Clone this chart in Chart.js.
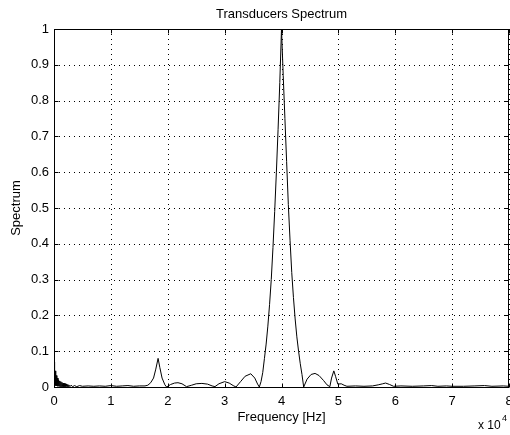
<!DOCTYPE html>
<html>
<head>
<meta charset="utf-8">
<script src="https://cdn.jsdelivr.net/npm/chart.js@4.4.0/dist/chart.umd.min.js"></script>
<style>
    html, body { margin: 0; padding: 0; background: #fff; }
    #wrap { width: 510px; height: 435px; }
</style>
</head>
<body>
<div id="wrap"><canvas id="spectrumChart" width="510" height="435"></canvas></div>
<script>
// Frequency in units of 1e4 Hz (axis shows "x 10^4")
const freq = [
    0, 0.01, 0.02, 0.03, 0.04, 0.05, 0.06, 0.07, 0.08, 0.09,
    0.10, 0.11, 0.12, 0.13, 0.14, 0.15, 0.16, 0.17, 0.18, 0.19,
    0.20, 0.21, 0.22, 0.23, 0.24, 0.25, 0.26, 0.28, 0.30, 0.33,
    0.36, 0.40, 0.45, 0.5, 0.6, 0.7, 0.8, 0.9, 1.0, 1.1,
    1.2, 1.3, 1.4, 1.5, 1.6, 1.65, 1.70, 1.75, 1.79, 1.83,
    1.86, 1.90, 1.95, 1.98, 2.05, 2.12, 2.18, 2.25, 2.33, 2.42,
    2.5, 2.6, 2.7, 2.78, 2.83, 2.9, 3.0, 3.08, 3.15, 3.2,
    3.28, 3.36, 3.46, 3.53, 3.58, 3.61, 3.64, 3.67, 3.70, 3.73,
    3.76, 3.79, 3.82, 3.85, 3.88, 3.91, 3.94, 3.97, 4.0, 4.03,
    4.06, 4.09, 4.12, 4.15, 4.18, 4.21, 4.24, 4.27, 4.30, 4.33,
    4.36, 4.39,
    4.45, 4.52, 4.59, 4.66, 4.74, 4.8, 4.85, 4.88, 4.92, 4.95,
    4.99, 5.05, 5.1, 5.15, 5.3, 5.45, 5.6, 5.7, 5.78, 5.83,
    5.9, 5.97, 6.1, 6.3, 6.5, 6.64, 6.75, 6.9, 7.0, 7.2,
    7.4, 7.57, 7.7, 7.9, 8.0
];
const spectrum = [
    0.07, 0.005, 0.045, 0.004, 0.032, 0.003, 0.025, 0.002, 0.02, 0.002,
    0.017, 0.001, 0.015, 0.001, 0.013, 0.001, 0.011, 0.001, 0.010, 0.001,
    0.009, 0.001, 0.008, 0.001, 0.007, 0.001, 0.006, 0.001, 0.005, 0.001,
    0.004, 0.001, 0.004, 0.002, 0.003, 0.002, 0.003, 0.002, 0.004, 0.002,
    0.003, 0.004, 0.002, 0.003, 0.003, 0.005, 0.012, 0.025, 0.05, 0.08,
    0.055, 0.025, 0.006, 0.0, 0.007, 0.011, 0.012, 0.009, 0.001, 0.005,
    0.009, 0.010, 0.008, 0.003, 0.001, 0.009, 0.015, 0.011, 0.004, 0.0,
    0.015, 0.030, 0.037, 0.025, 0.008, 0.0, 0.015, 0.04, 0.08, 0.12,
    0.17, 0.23, 0.30, 0.39, 0.49, 0.60, 0.72, 0.85, 1.0, 0.87,
    0.75, 0.63, 0.51, 0.41, 0.32, 0.25, 0.19, 0.14, 0.10, 0.065,
    0.035, 0.0,
    0.022, 0.035, 0.038, 0.032, 0.018, 0.006, 0.001, 0.025, 0.045, 0.030,
    0.008, 0.009, 0.005, 0.002, 0.003, 0.002, 0.003, 0.006, 0.009, 0.011,
    0.007, 0.002, 0.003, 0.002, 0.003, 0.004, 0.002, 0.003, 0.002, 0.002,
    0.003, 0.004, 0.002, 0.003, 0.002
];
const xTicks = [0, 1, 2, 3, 4, 5, 6, 7, 8];
const yTicks = [0, 0.1, 0.2, 0.3, 0.4, 0.5, 0.6, 0.7, 0.8, 0.9, 1];

const FONT = '"Liberation Sans", Arial, Helvetica, sans-serif';

// MATLAB-style frame: dotted grid, box, inward ticks and text labels
const matlabFrame = {
    id: 'matlabFrame',
    beforeDatasetsDraw(chart) {
        const { ctx, chartArea: a, scales: { x, y } } = chart;
        ctx.save();
        ctx.strokeStyle = '#000';
        ctx.lineWidth = 1;
        ctx.setLineDash([1, 4]);
        xTicks.forEach(v => {
            const px = Math.round(x.getPixelForValue(v)) + 0.5;
            ctx.beginPath();
            ctx.moveTo(px, a.top);
            ctx.lineTo(px, a.bottom);
            ctx.stroke();
        });
        yTicks.forEach(v => {
            const py = Math.round(y.getPixelForValue(v)) + 0.5;
            ctx.beginPath();
            ctx.moveTo(a.left, py);
            ctx.lineTo(a.right, py);
            ctx.stroke();
        });
        ctx.restore();
    },
    afterDraw(chart) {
        const { ctx, chartArea: a, scales: { x, y } } = chart;
        const L = Math.round(a.left) + 0.5, R = Math.round(a.right) - 0.5;
        const T = Math.round(a.top) + 0.5, B = Math.round(a.bottom) + 0.5;
        ctx.save();
        ctx.strokeStyle = '#000';
        ctx.lineWidth = 1;
        ctx.strokeRect(L, T, R - L, B - T);

        // inward tick marks
        const len = 4;
        ctx.beginPath();
        xTicks.forEach(v => {
            const px = Math.round(x.getPixelForValue(v)) + 0.5;
            ctx.moveTo(px, B); ctx.lineTo(px, B - len);
            ctx.moveTo(px, T); ctx.lineTo(px, T + len);
        });
        yTicks.forEach(v => {
            const py = Math.round(y.getPixelForValue(v)) + 0.5;
            ctx.moveTo(L, py); ctx.lineTo(L + len, py);
            ctx.moveTo(R, py); ctx.lineTo(R - len, py);
        });
        ctx.stroke();

        // texts
        const cx = (a.left + a.right) / 2;
        ctx.fillStyle = '#000';
        ctx.textAlign = 'center';
        ctx.textBaseline = 'middle';
        ctx.font = '13px ' + FONT;
        ctx.fillText('Transducers Spectrum', cx, 14);
        ctx.fillText('Frequency [Hz]', cx, 417);

        ctx.save();
        ctx.translate(16, (a.top + a.bottom) / 2);
        ctx.rotate(-Math.PI / 2);
        ctx.fillText('Spectrum', 0, 0);
        ctx.restore();

        ctx.textAlign = 'left';
        ctx.font = '12px ' + FONT;
        ctx.fillText('x 10', 478, 426);
        ctx.font = '9px ' + FONT;
        ctx.fillText('4', 502, 419);
        ctx.restore();
    }
};

new Chart(document.getElementById('spectrumChart').getContext('2d'), {
    type: 'line',
    data: {
        datasets: [{
            label: 'Spectrum',
            data: freq.map((f, i) => ({ x: f, y: spectrum[i] })),
            borderColor: '#000',
            borderWidth: 1,
            pointRadius: 0,
            tension: 0,
            fill: false
        }]
    },
    options: {
        responsive: false,
        animation: false,
        layout: { padding: { left: 0, right: 1, top: 29, bottom: 0 } },
        plugins: {
            legend: { display: false },
            title: { display: false },
            tooltip: { enabled: false }
        },
        scales: {
            x: {
                type: 'linear',
                min: 0,
                max: 8,
                afterBuildTicks: s => { s.ticks = xTicks.map(v => ({ value: v })); },
                afterFit: s => { s.height = 48; s.paddingLeft = 0; s.paddingRight = 0; },
                grid: { display: false, drawTicks: false },
                border: { display: false },
                ticks: { color: '#000', padding: 7, font: { family: FONT, size: 13 }, maxRotation: 0, callback: v => String(v) }
            },
            y: {
                type: 'linear',
                min: 0,
                max: 1,
                afterBuildTicks: s => { s.ticks = yTicks.map(v => ({ value: v })); },
                afterFit: s => { s.width = 54; s.paddingTop = 0; s.paddingBottom = 0; },
                grid: { display: false, drawTicks: false },
                border: { display: false },
                ticks: { color: '#000', padding: 5, font: { family: FONT, size: 13 }, callback: v => String(v) }
            }
        }
    },
    plugins: [matlabFrame]
});
</script>
</body>
</html>
